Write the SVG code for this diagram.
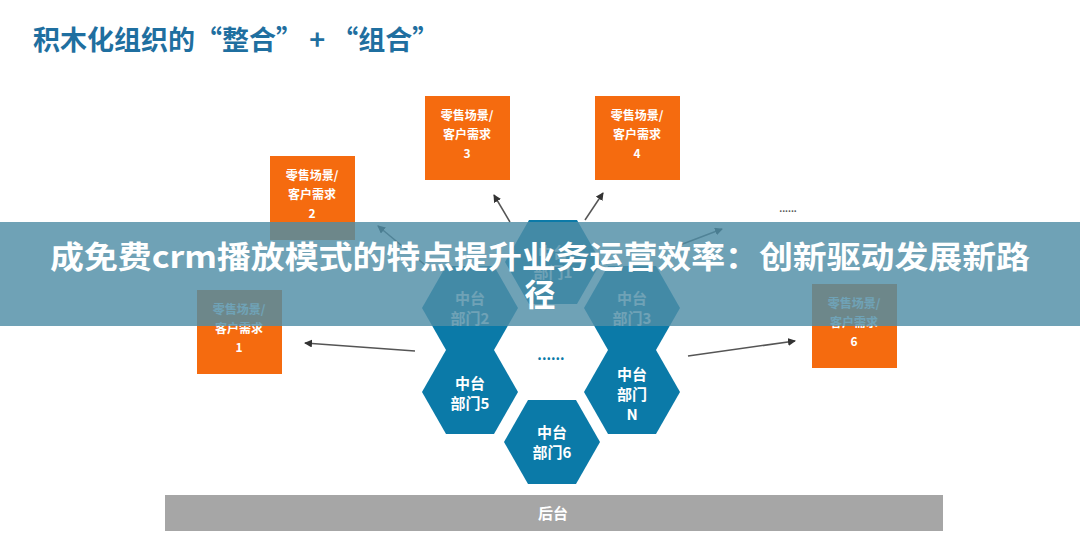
<svg xmlns="http://www.w3.org/2000/svg" width="1080" height="548" viewBox="0 0 1080 548">
<style>
.t{font-family:"Noto Sans CJK SC","Noto Sans",sans-serif;font-weight:bold}
.box{fill:#f56b0f}
.bt{fill:#fff;font-size:12px;text-anchor:middle}
.hex{fill:#0b7aa8}
.ht{fill:#fff;font-size:15px;text-anchor:middle}
.c{stroke:#555;stroke-width:1.5;fill:none;marker-end:url(#a)}
</style>
<defs>
<marker id="a" markerWidth="8" markerHeight="8" refX="7" refY="4" orient="auto" markerUnits="userSpaceOnUse"><path d="M0,0L8,4L0,8z" fill="#333"/></marker>
<polygon id="h" points="-48,0 -24,-42 24,-42 48,0 24,42 -24,42"/>
</defs>
<rect width="1080" height="548" fill="#fff"/>
<text class="t" x="33" y="50" font-size="27" fill="#1f6fa0">积木化组织的“整合” + “组合”</text>
<g id="connectors">
<line class="c" x1="510" y1="222" x2="494" y2="195"/>
<line class="c" x1="585" y1="220" x2="603" y2="193"/>
<line class="c" x1="425" y1="265" x2="378" y2="226"/>
<line class="c" x1="415" y1="351" x2="305" y2="343"/>
<line class="c" x1="688" y1="356" x2="795" y2="341"/>
<line class="c" x1="680" y1="245" x2="722" y2="229"/>
</g>
<g id="box3"><rect class="box" x="425" y="96" width="85" height="84"/><text class="t bt" x="467" y="120">零售场景/</text><text class="t bt" x="467" y="139">客户需求</text><text class="t bt" x="467" y="158">3</text></g>
<g id="box4"><rect class="box" x="595" y="96" width="85" height="84"/><text class="t bt" x="637" y="120">零售场景/</text><text class="t bt" x="637" y="139">客户需求</text><text class="t bt" x="637" y="158">4</text></g>
<g id="box2"><rect class="box" x="270" y="156" width="85" height="84"/><text class="t bt" x="312" y="180">零售场景/</text><text class="t bt" x="312" y="199">客户需求</text><text class="t bt" x="312" y="218">2</text></g>
<g id="box1"><rect class="box" x="197" y="290" width="85" height="84"/><text class="t bt" x="239" y="314">零售场景/</text><text class="t bt" x="239" y="333">客户需求</text><text class="t bt" x="239" y="352">1</text></g>
<g id="box6"><rect class="box" x="812" y="284" width="85" height="84"/><text class="t bt" x="854" y="308">零售场景/</text><text class="t bt" x="854" y="327">客户需求</text><text class="t bt" x="854" y="346">6</text></g>
<text class="t" x="788" y="212" font-size="9" fill="#555" text-anchor="middle">......</text>
<g id="hex1"><use href="#h" class="hex" x="553" y="262"/><text class="t ht" x="553" y="258">中台</text><text class="t ht" x="553" y="278">部门1</text></g>
<g id="hex2"><use href="#h" class="hex" x="470" y="308"/><text class="t ht" x="470" y="304">中台</text><text class="t ht" x="470" y="324">部门2</text></g>
<g id="hex3"><use href="#h" class="hex" x="632" y="308"/><text class="t ht" x="632" y="304">中台</text><text class="t ht" x="632" y="324">部门3</text></g>
<g id="hex5"><use href="#h" class="hex" x="470" y="392"/><text class="t ht" x="470" y="389">中台</text><text class="t ht" x="470" y="409">部门5</text></g>
<g id="hexN"><use href="#h" class="hex" x="632" y="392"/><text class="t ht" x="632" y="380">中台</text><text class="t ht" x="632" y="400">部门</text><text class="t ht" x="632" y="420">N</text></g>
<g id="hex6"><use href="#h" class="hex" x="552" y="442"/><text class="t ht" x="552" y="438">中台</text><text class="t ht" x="552" y="458">部门6</text></g>
<text class="t" x="551" y="360" font-size="14" fill="#0b7aa8" text-anchor="middle">......</text>
<g id="backend"><rect x="165" y="495" width="778" height="36" fill="#a6a6a6"/><text class="t" x="553" y="519" font-size="15" fill="#fff" text-anchor="middle">后台</text></g>
<rect x="0" y="222" width="1080" height="104" fill="#4f8ea6" fill-opacity="0.82"/>
<text class="t" x="540" y="268" font-size="31" fill="#fff" text-anchor="middle" textLength="980" lengthAdjust="spacingAndGlyphs">成免费crm播放模式的特点提升业务运营效率：创新驱动发展新路</text>
<text class="t" x="540" y="306" font-size="31" fill="#fff" text-anchor="middle">径</text>
</svg>
